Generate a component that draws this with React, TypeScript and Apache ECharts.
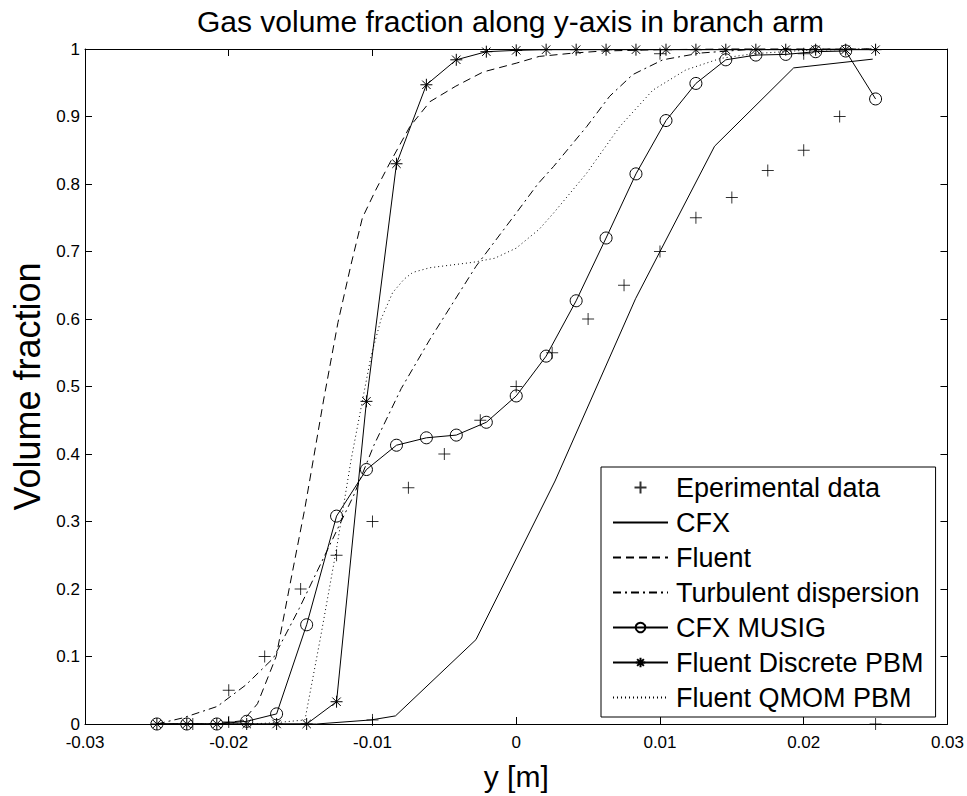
import React, { useEffect, useRef } from "react";
import * as echarts from "echarts";

const FONT = '"Liberation Sans", Arial, Helvetica, sans-serif';

const titleText = "Gas volume fraction along y-axis in branch arm";
const xAxisName = "y [m]";
const yAxisName = "Volume fraction";

const xTickLabels = ["-0.03", "-0.02", "-0.01", "0", "0.01", "0.02", "0.03"];
const yTickLabels = ["0", "0.1", "0.2", "0.3", "0.4", "0.5", "0.6", "0.7", "0.8", "0.9", "1"];

const seriesNames = [
  "Eperimental data",
  "CFX",
  "Fluent",
  "Turbulent dispersion",
  "CFX MUSIG",
  "Fluent Discrete PBM",
  "Fluent QMOM PBM",
];
// series drawn as plain lines (no marker in the legend)
const plainLineNames = ["CFX", "Fluent", "Turbulent dispersion", "Fluent QMOM PBM"];

// Experimental data (+)
const expX = [
  -0.0225, -0.02, -0.02, -0.0175, -0.015, -0.0125, -0.01, -0.01, -0.0075, -0.005, -0.0025, 0,
  0.0025, 0.005, 0.0075, 0.01, 0.01, 0.0125, 0.015, 0.0175, 0.02, 0.02, 0.0225, 0.025,
];
const expY = [
  0, 0.003, 0.05, 0.1, 0.2, 0.25, 0.3, 0.006, 0.35, 0.4, 0.45, 0.5,
  0.55, 0.6, 0.65, 0.7, 0.993, 0.75, 0.78, 0.82, 0.85, 0.993, 0.9, 0,
];

// CFX (solid)
const cfxX = [-0.025, -0.0194, -0.0139, -0.0101, -0.0084, -0.0028, 0.0027, 0.0083, 0.0138, 0.0193, 0.0248];
const cfxY = [0, 0, 0, 0.006, 0.012, 0.125, 0.36, 0.63, 0.856, 0.972, 0.985];

// Fluent (dashed)
const fluentX = [
  -0.025, -0.021, -0.019, -0.018, -0.0167, -0.0158, -0.0147, -0.0134, -0.0124, -0.0115, -0.0107,
  -0.0098, -0.0088, -0.0074, -0.006, -0.0042, -0.0023, 0, 0.0016, 0.004, 0.006, 0.01, 0.015, 0.025,
];
const fluentY = [
  0, 0, 0.005, 0.03, 0.1, 0.2, 0.32, 0.48, 0.595, 0.68, 0.75,
  0.79, 0.831, 0.885, 0.922, 0.945, 0.966, 0.979, 0.989, 0.994, 0.997, 0.999, 1, 1,
];

// Turbulent dispersion (dash-dot)
const turbX = [
  -0.025, -0.0232, -0.0208, -0.0188, -0.0169, -0.0151, -0.0132, -0.0113, -0.0099, -0.008, -0.006,
  -0.0028, 0, 0.0015, 0.0026, 0.0049, 0.0065, 0.0081, 0.0102, 0.0128, 0.016, 0.025,
];
const turbY = [
  0, 0.009, 0.026, 0.058, 0.0975, 0.171, 0.255, 0.339, 0.413, 0.497, 0.57,
  0.678, 0.757, 0.8, 0.826, 0.885, 0.93, 0.962, 0.984, 0.994, 0.999, 1,
];

// Shared grid for CFX MUSIG and Fluent Discrete PBM
const gridX = [
  -0.025, -0.02292, -0.02083, -0.01875, -0.01667, -0.01458, -0.0125, -0.01042, -0.00833, -0.00625,
  -0.00417, -0.00208, 0, 0.00208, 0.00417, 0.00625, 0.00833, 0.01042, 0.0125, 0.01458, 0.01667,
  0.01875, 0.02083, 0.02292, 0.025,
];
const musigY = [
  0, 0, 0, 0.004, 0.015, 0.147, 0.308, 0.377, 0.413, 0.424,
  0.428, 0.447, 0.486, 0.545, 0.627, 0.72, 0.815, 0.894, 0.949, 0.984, 0.991,
  0.992, 0.996, 0.997, 0.926,
];
const discreteY = [
  0, 0, 0, 0, 0, 0, 0.033, 0.478, 0.83, 0.947,
  0.984, 0.996, 0.998, 0.999, 0.999, 0.999, 0.999, 0.999, 0.999, 0.999, 0.999,
  0.999, 0.999, 0.999, 0.999,
];

// Fluent QMOM PBM (dotted)
const qmomX = [
  -0.025, -0.0185, -0.0167, -0.0147, -0.0136, -0.0125, -0.0115, -0.0106, -0.0101, -0.0094, -0.0086,
  -0.0078, -0.0072, -0.006, -0.003, -0.0015, 0, 0.0016, 0.0026, 0.0049, 0.0072, 0.0095, 0.0118,
  0.0142, 0.0165, 0.02, 0.025,
];
const qmomY = [
  0, 0, 0.002, 0.006, 0.13, 0.26, 0.39, 0.49, 0.545, 0.6, 0.639,
  0.659, 0.669, 0.676, 0.684, 0.69, 0.705, 0.733, 0.757, 0.816, 0.885, 0.939, 0.969,
  0.986, 0.993, 0.998, 1,
];

const pairs = (xs: number[], ys: number[]) => xs.map((x, i) => [x, ys[i]]);

const PLUS = "path://M0,-1L0,1M-1,0L1,0";
const STAR = "path://M0,-1L0,1M-1,0L1,0M-0.7,-0.7L0.7,0.7M-0.7,0.7L0.7,-0.7";

export default function App() {
  const ref = useRef<HTMLDivElement>(null);

  useEffect(() => {
    if (!ref.current) return;
    const chart = echarts.init(ref.current, undefined, { renderer: "svg" });

    const axisCommon = {
      type: "value" as const,
      axisLine: { show: true, onZero: false, lineStyle: { color: "#000", width: 1 } },
      axisTick: { show: true, inside: true, length: 7, lineStyle: { color: "#000", width: 1 } },
      splitLine: { show: false },
    };

    const lineBase = {
      type: "line" as const,
      smooth: false,
      showAllSymbol: true,
      clip: false,
      z: 3,
    };

    const noMarkerItem = { color: "transparent", borderColor: "transparent", borderWidth: 0, opacity: 0 };

    chart.setOption({
      animation: false,
      backgroundColor: "#fff",
      title: {
        text: titleText,
        left: 197,
        top: 6,
        padding: 0,
        textStyle: { fontSize: 30, fontWeight: "normal", fontFamily: FONT, color: "#000" },
      },
      grid: { left: 85, top: 49, right: 19, bottom: 70, containLabel: false },
      legend: {
        orient: "vertical",
        left: 601,
        top: 467,
        padding: [7, 12, 6, 11],
        itemWidth: 55,
        itemHeight: 12,
        itemGap: 8,
        selectedMode: false,
        borderColor: "#000",
        borderWidth: 1,
        borderRadius: 0,
        backgroundColor: "#fff",
        textStyle: { fontSize: 27, fontFamily: FONT, color: "#000", lineHeight: 27, padding: [0, 0, 0, 3] },
        data: seriesNames.map((n) =>
          plainLineNames.includes(n) ? { name: n, itemStyle: noMarkerItem } : { name: n }
        ),
      },
      xAxis: [
        {
          ...axisCommon,
          position: "bottom",
          min: -0.03,
          max: 0.03,
          interval: 0.01,
          axisLabel: {
            fontSize: 17,
            fontFamily: FONT,
            color: "#000",
            margin: 10,
            formatter: (v: number) => xTickLabels[Math.round((v + 0.03) / 0.01)] ?? "",
          },
          name: xAxisName,
          nameLocation: "middle",
          nameGap: 37,
          nameTextStyle: { fontSize: 30, fontFamily: FONT, color: "#000" },
        },
        {
          ...axisCommon,
          position: "top",
          min: -0.03,
          max: 0.03,
          interval: 0.01,
          axisLabel: { show: false },
        },
      ],
      yAxis: [
        {
          ...axisCommon,
          position: "left",
          min: 0,
          max: 1,
          interval: 0.1,
          axisLabel: {
            fontSize: 17,
            fontFamily: FONT,
            color: "#000",
            margin: 5,
            formatter: (v: number) => yTickLabels[Math.round(v / 0.1)] ?? "",
          },
          name: yAxisName,
          nameLocation: "middle",
          nameGap: 40,
          nameTextStyle: { fontSize: 36, fontFamily: FONT, color: "#000" },
        },
        {
          ...axisCommon,
          position: "right",
          min: 0,
          max: 1,
          interval: 0.1,
          axisLabel: { show: false },
        },
      ],
      series: [
        {
          name: seriesNames[0],
          type: "scatter",
          symbol: PLUS,
          symbolSize: 12,
          clip: false,
          z: 4,
          itemStyle: { color: "transparent", borderColor: "#000", borderWidth: 1 },
          data: pairs(expX, expY),
        },
        {
          ...lineBase,
          name: seriesNames[1],
          symbol: "none",
          lineStyle: { color: "#000", width: 1, type: "solid" },
          itemStyle: { color: "#000" },
          data: pairs(cfxX, cfxY),
        },
        {
          ...lineBase,
          name: seriesNames[2],
          symbol: "none",
          lineStyle: { color: "#000", width: 1, type: [8, 5] },
          itemStyle: { color: "#000" },
          data: pairs(fluentX, fluentY),
        },
        {
          ...lineBase,
          name: seriesNames[3],
          symbol: "none",
          lineStyle: { color: "#000", width: 1, type: [8, 4, 2, 4] },
          itemStyle: { color: "#000" },
          data: pairs(turbX, turbY),
        },
        {
          ...lineBase,
          name: seriesNames[4],
          symbol: "circle",
          symbolSize: 12,
          lineStyle: { color: "#000", width: 1, type: "solid" },
          itemStyle: { color: "transparent", borderColor: "#000", borderWidth: 1 },
          data: pairs(gridX, musigY),
        },
        {
          ...lineBase,
          name: seriesNames[5],
          symbol: STAR,
          symbolSize: 12,
          lineStyle: { color: "#000", width: 1, type: "solid" },
          itemStyle: { color: "transparent", borderColor: "#000", borderWidth: 1 },
          data: pairs(gridX, discreteY),
        },
        {
          ...lineBase,
          name: seriesNames[6],
          symbol: "none",
          lineStyle: { color: "#000", width: 1, type: [1, 3] },
          itemStyle: { color: "#000" },
          data: pairs(qmomX, qmomY),
        },
      ],
    });

    return () => chart.dispose();
  }, []);

  return (
    <div
      ref={ref}
      style={{ position: "fixed", left: 0, top: 0, width: 967, height: 796, background: "#fff" }}
    />
  );
}
